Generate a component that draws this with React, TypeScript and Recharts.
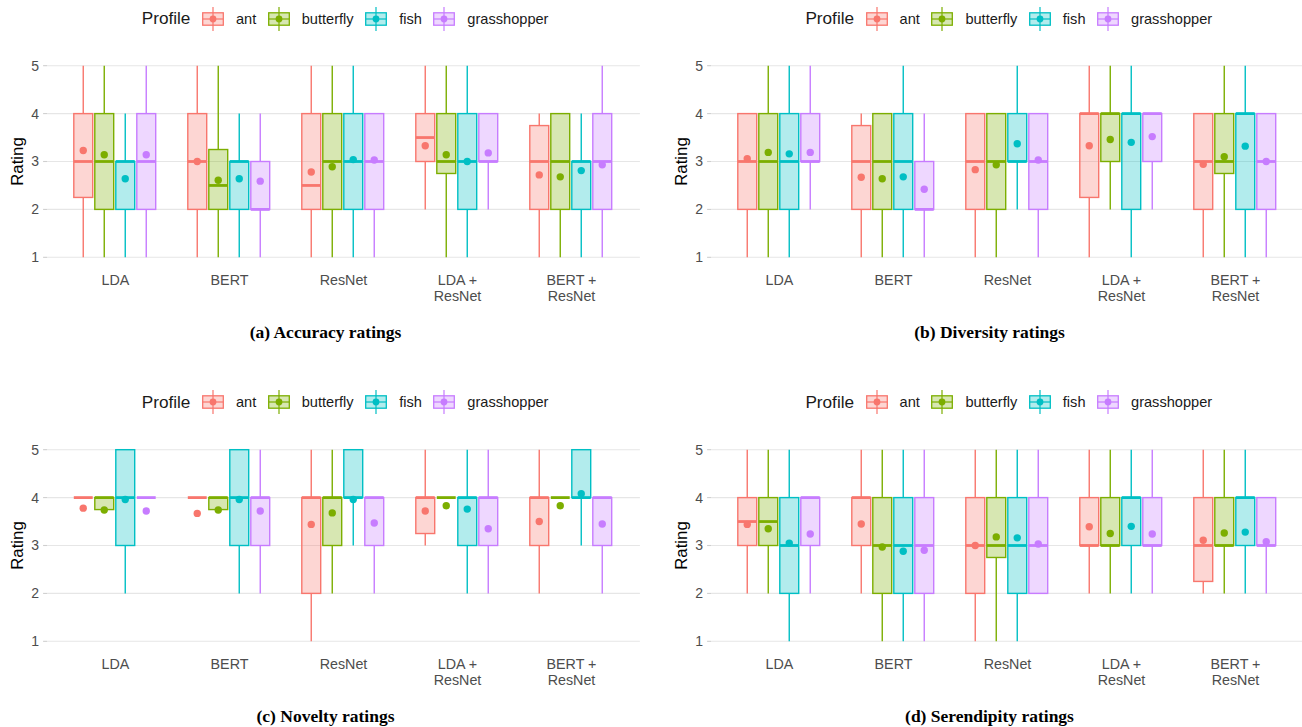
import React from 'react';
import { ComposedChart, Bar, XAxis, YAxis, CartesianGrid, Legend } from 'recharts';

// ---------- data ----------
const CATEGORIES = ['LDA', 'BERT', 'ResNet', 'LDA +\nResNet', 'BERT +\nResNet'];
const PROFILES = ['ant', 'butterfly', 'fish', 'grasshopper'];
const PROFILE_COLORS = ['#F8766D', '#7CAE00', '#00BFC4', '#C77CFF'];
const Y_TICKS = [1, 2, 3, 4, 5];
const Y_DOMAIN: [number, number] = [0.8, 5.2];

// each row: [min, q1, median, q3, max, mean] for one category (LDA, BERT, ResNet, LDA+ResNet, BERT+ResNet)
const ACCURACY_ANT = [[1, 2.25, 3, 4, 5, 3.23], [1, 2, 3, 4, 5, 3.0], [1, 2, 2.5, 4, 5, 2.78], [2, 3, 3.5, 4, 5, 3.33], [1, 2, 3, 3.75, 4, 2.72]];
const ACCURACY_BUTTERFLY = [[1, 2, 3, 4, 5, 3.14], [1, 2, 2.5, 3.25, 5, 2.61], [1, 2, 3, 4, 5, 2.89], [1, 2.75, 3, 4, 5, 3.14], [1, 2, 3, 4, 4, 2.68]];
const ACCURACY_FISH = [[1, 2, 3, 3, 4, 2.64], [1, 2, 3, 3, 4, 2.64], [1, 2, 3, 4, 5, 3.04], [1, 2, 3, 4, 5, 3.0], [1, 2, 3, 3, 4, 2.81]];
const ACCURACY_GRASSHOPPER = [[1, 2, 3, 4, 5, 3.14], [1, 2, 2, 3, 4, 2.59], [1, 2, 3, 4, 4, 3.03], [2, 3, 3, 4, 4, 3.18], [1, 2, 3, 4, 5, 2.93]];

const DIVERSITY_ANT = [[1, 2, 3, 4, 4, 3.06], [1, 2, 3, 3.75, 4, 2.67], [1, 2, 3, 4, 4, 2.83], [1, 2.25, 4, 4, 5, 3.33], [1, 2, 3, 4, 4, 2.94]];
const DIVERSITY_BUTTERFLY = [[1, 2, 3, 4, 5, 3.19], [1, 2, 3, 4, 4, 2.64], [1, 2, 3, 4, 4, 2.93], [2, 3, 4, 4, 5, 3.46], [1, 2.75, 3, 4, 5, 3.10]];
const DIVERSITY_FISH = [[1, 2, 3, 4, 5, 3.16], [1, 2, 3, 4, 5, 2.68], [2, 3, 3, 4, 5, 3.37], [1, 2, 4, 4, 5, 3.40], [1, 2, 4, 4, 5, 3.32]];
const DIVERSITY_GRASSHOPPER = [[2, 3, 3, 4, 5, 3.19], [1, 2, 2, 3, 4, 2.42], [1, 2, 3, 4, 4, 3.03], [2, 3, 4, 4, 4, 3.52], [1, 2, 3, 4, 4, 3.0]];

const NOVELTY_ANT = [[4, 4, 4, 4, 4, 3.78], [4, 4, 4, 4, 4, 3.67], [1, 2, 4, 4, 5, 3.44], [3, 3.25, 4, 4, 5, 3.72], [2, 3, 4, 4, 5, 3.50]];
const NOVELTY_BUTTERFLY = [[3.75, 3.75, 4, 4, 4, 3.74], [3.75, 3.75, 4, 4, 4, 3.74], [2, 3, 4, 4, 5, 3.68], [4, 4, 4, 4, 4, 3.83], [4, 4, 4, 4, 4, 3.83]];
const NOVELTY_FISH = [[2, 3, 4, 5, 5, 3.96], [2, 3, 4, 5, 5, 3.96], [3, 4, 4, 5, 5, 3.96], [2, 3, 4, 4, 5, 3.76], [3, 4, 4, 5, 5, 4.08]];
const NOVELTY_GRASSHOPPER = [[4, 4, 4, 4, 4, 3.72], [2, 3, 4, 4, 5, 3.72], [2, 3, 4, 4, 4, 3.47], [2, 3, 4, 4, 5, 3.35], [2, 3, 4, 4, 4, 3.45]];

const SERENDIPITY_ANT = [[2, 3, 3.5, 4, 5, 3.44], [2, 3, 4, 4, 5, 3.45], [1, 2, 3, 4, 5, 3.0], [2, 3, 3, 4, 5, 3.39], [2, 2.25, 3, 4, 5, 3.11]];
const SERENDIPITY_BUTTERFLY = [[2, 3, 3.5, 4, 5, 3.35], [1, 2, 3, 4, 5, 2.97], [1, 2.75, 3, 4, 5, 3.18], [2, 3, 3, 4, 5, 3.25], [2, 3, 3, 4, 5, 3.26]];
const SERENDIPITY_FISH = [[1, 2, 3, 4, 5, 3.05], [1, 2, 3, 4, 5, 2.88], [1, 2, 3, 4, 5, 3.16], [2, 3, 4, 4, 5, 3.40], [2, 3, 4, 4, 5, 3.28]];
const SERENDIPITY_GRASSHOPPER = [[2, 3, 4, 4, 4, 3.24], [1, 2, 3, 4, 5, 2.90], [2, 2, 3, 4, 5, 3.03], [2, 3, 3, 4, 5, 3.24], [2, 3, 3, 4, 4, 3.08]];

const CAPTIONS = ['(a) Accuracy ratings', '(b) Diversity ratings', '(c) Novelty ratings', '(d) Serendipity ratings'];

// ---------- helpers ----------
const SANS = '"Liberation Sans", Arial, Helvetica, sans-serif';
const SERIF = '"Liberation Serif", "Times New Roman", serif';

function buildData(series: number[][][]) {
  return CATEGORIES.map((cat, i) => {
    const row: any = { category: cat };
    PROFILES.forEach((p, j) => {
      const [min, q1, median, q3, max, mean] = series[j][i];
      row[p] = { min, q1, median, q3, max, mean };
    });
    return row;
  });
}

function makeBoxShape(profile: string, color: string) {
  return (props: any) => {
    const { x, y, width, height, payload } = props;
    const s = payload[profile];
    // bar spans [Y_DOMAIN[0], max] in the library's linear y scale
    const k = height / (s.max - Y_DOMAIN[0]);
    const py = (v: number) => y + (s.max - v) * k;
    const cx = x + width / 2;
    const bw = width * 0.9;
    const bx = cx - bw / 2;
    const top = py(s.q3);
    const bot = py(s.q1);
    return (
      <g>
        <line x1={cx} x2={cx} y1={py(s.max)} y2={top} stroke={color} strokeWidth={1.4} />
        <line x1={cx} x2={cx} y1={bot} y2={py(s.min)} stroke={color} strokeWidth={1.4} />
        <rect x={bx} y={top} width={bw} height={Math.max(0, bot - top)} fill={color} fillOpacity={0.3} stroke={color} strokeWidth={1.4} />
        <line x1={bx} x2={bx + bw} y1={py(s.median)} y2={py(s.median)} stroke={color} strokeWidth={2.8} />
        <circle cx={cx} cy={py(s.mean)} r={3.7} fill={color} />
      </g>
    );
  };
}

const XTick = (props: any) => {
  const { x, y, payload } = props;
  const lines = String(payload.value).split('\n');
  return (
    <text x={x} y={y} textAnchor="middle" fill="#4D4D4D" fontSize={14.3} fontFamily={SANS}>
      {lines.map((l, i) => (
        <tspan key={i} x={x} dy={i === 0 ? 18 : 15.7}>{l}</tspan>
      ))}
    </text>
  );
};

const LegendKey = ({ color }: { color: string }) => (
  <svg width={22} height={24} style={{ display: 'block', marginRight: 12 }}>
    <line x1={11} x2={11} y1={0} y2={24} stroke={color} strokeWidth={1.2} />
    <rect x={0.7} y={5.8} width={20.6} height={12.4} fill={color} fillOpacity={0.3} stroke={color} strokeWidth={1.3} />
    <line x1={0.7} x2={21.3} y1={12} y2={12} stroke={color} strokeWidth={1.2} />
    <circle cx={11} cy={12} r={3.4} fill={color} />
  </svg>
);

const LegendContent = (props: any) => {
  const payload = props.payload && props.payload.length
    ? props.payload.map((e: any) => ({ name: e.value, color: e.color }))
    : PROFILES.map((p, i) => ({ name: p, color: PROFILE_COLORS[i] }));
  return (
    <div style={{ display: 'flex', alignItems: 'center', height: 37.4, paddingLeft: 141.7, fontFamily: SANS, color: '#1A1A1A', whiteSpace: 'nowrap' }}>
      <span style={{ fontSize: 17.2, marginRight: 11.5 }}>Profile</span>
      {payload.map((it: any) => (
        <React.Fragment key={it.name}>
          <LegendKey color={it.color} />
          <span style={{ fontSize: 14.6, marginRight: 11.5 }}>{it.name}</span>
        </React.Fragment>
      ))}
    </div>
  );
};

const RatingLabel = (props: any) => {
  const vb = props.viewBox || { y: 56, height: 211 };
  const cy = vb.y + vb.height / 2;
  return (
    <text x={23} y={cy} transform={`rotate(-90 23 ${cy})`} textAnchor="middle" fontSize={16.8} fill="#000" fontFamily={SANS}>
      Rating
    </text>
  );
};

const CHART_W = 660;
const CHART_H = 345;
const PLOT_TOP = 56.1;
const PLOT_BOTTOM = 266.9;
const PLOT_LEFT = 47.1;
const PLOT_RIGHT = 639.9;
const Y_AXIS_W = 30;
const X_AXIS_H = 40;

function Panel({ left, top, series, caption }: { left: number; top: number; series: number[][][]; caption: string }) {
  const data = buildData(series);
  return (
    <div style={{ position: 'absolute', left, top, width: CHART_W, height: CHART_H + 45 }}>
      <ComposedChart
        width={CHART_W}
        height={CHART_H}
        data={data}
        margin={{ top: PLOT_TOP, left: PLOT_LEFT - Y_AXIS_W, right: CHART_W - PLOT_RIGHT, bottom: CHART_H - PLOT_BOTTOM - X_AXIS_H }}
        barCategoryGap="12.5%"
        barGap={0}
      >
        <CartesianGrid vertical={false} horizontalValues={Y_TICKS} stroke="#E6E6E6" strokeWidth={1.1} />
        <XAxis
          dataKey="category"
          type="category"
          axisLine={false}
          tickLine={false}
          tickSize={0}
          tickMargin={0}
          height={X_AXIS_H}
          padding={{ left: 11.4, right: 11.4 }}
          tick={<XTick />}
          interval={0}
        />
        <YAxis
          type="number"
          domain={Y_DOMAIN}
          ticks={Y_TICKS}
          width={Y_AXIS_W}
          axisLine={false}
          tickSize={4}
          tickMargin={4}
          tickLine={{ stroke: '#CFCFCF', strokeWidth: 1.1 }}
          tick={{ fill: '#4D4D4D', fontSize: 14, fontFamily: SANS }}
          label={{ content: <RatingLabel /> }}
        />
        <Legend
          layout="horizontal"
          verticalAlign="middle"
          align="center"
          wrapperStyle={{ top: 0, left: 0, width: CHART_W, height: 37.4 }}
          content={<LegendContent />}
        />
        {PROFILES.map((p, i) => (
          <Bar
            key={p}
            name={p}
            dataKey={(d: any) => [Y_DOMAIN[0], d[p].max]}
            fill={PROFILE_COLORS[i]}
            shape={makeBoxShape(p, PROFILE_COLORS[i])}
            isAnimationActive={false}
          />
        ))}
      </ComposedChart>
      <svg width={CHART_W} height={40} style={{ position: 'absolute', left: 0, top: 310 }}>
        <text x={325.5} y={27.5} textAnchor="middle" fontFamily={SERIF} fontWeight="bold" fontSize={17.5} fill="#000">
          {caption}
        </text>
      </svg>
    </div>
  );
}

export default function App() {
  return (
    <div style={{ position: 'absolute', left: 0, top: 0, width: 1302, height: 727, overflow: 'hidden', background: '#fff' }}>
      <Panel left={0} top={0} series={[ACCURACY_ANT, ACCURACY_BUTTERFLY, ACCURACY_FISH, ACCURACY_GRASSHOPPER]} caption={CAPTIONS[0]} />
      <Panel left={663.7} top={0} series={[DIVERSITY_ANT, DIVERSITY_BUTTERFLY, DIVERSITY_FISH, DIVERSITY_GRASSHOPPER]} caption={CAPTIONS[1]} />
      <Panel left={0} top={383.6} series={[NOVELTY_ANT, NOVELTY_BUTTERFLY, NOVELTY_FISH, NOVELTY_GRASSHOPPER]} caption={CAPTIONS[2]} />
      <Panel left={663.7} top={383.6} series={[SERENDIPITY_ANT, SERENDIPITY_BUTTERFLY, SERENDIPITY_FISH, SERENDIPITY_GRASSHOPPER]} caption={CAPTIONS[3]} />
    </div>
  );
}
